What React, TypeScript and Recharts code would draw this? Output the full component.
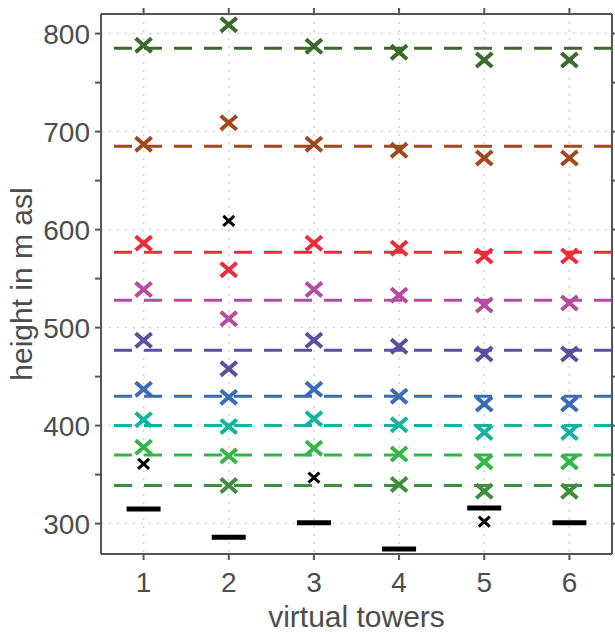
import { ScatterChart, Scatter, XAxis, YAxis, CartesianGrid, ReferenceLine, Label } from 'recharts'

const towers = [1, 2, 3, 4, 5, 6]

// reference height of each measurement level (dashed lines)
const levelHeights = [339, 370, 400, 430, 477, 528, 577, 685, 785]
const levelColors = [
  '#3f8e3f', // 339
  '#35b64a', // 370
  '#14b3a1', // 400
  '#3a6cb6', // 430
  '#5a4fa1', // 477
  '#b64b9f', // 528
  '#ee2b3c', // 577
  '#a1481f', // 685
  '#3c6a2e', // 785
]

// level heights at the virtual towers (null = no point)
const level339 = [null, 339, null, 340, 333, 333]
const level370 = [378, 369, 377, 371, 363, 363]
const level400 = [406, 399, 407, 401, 393, 393]
const level430 = [437, 429, 437, 430, 422, 422]
const level477 = [487, 458, 487, 481, 473, 473]
const level528 = [539, 509, 539, 533, 523, 525]
const level577 = [586, 559, 586, 581, 573, 573]
const level685 = [687, 709, 687, 681, 673, 673]
const level785 = [788, 809, 787, 781, 773, 773]
const levelValues = [level339, level370, level400, level430, level477, level528, level577, level685, level785]

const blackPoints = [361, 609, 347, null, 302, null]
const groundLevel = [315, 286, 301, 274, 316, 301]

const majorTicks = [300, 400, 500, 600, 700, 800]
const allYTicks = [300, 350, 400, 450, 500, 550, 600, 650, 700, 750, 800]

const TEXT = '#4d4d4d'
const AXIS = '#555555'
const FONT = '"Liberation Sans", Arial, sans-serif'

const toPoints = (vals: (number | null)[]) =>
  towers
    .map((t, i) => ({ tower: t, height: vals[i] }))
    .filter((d) => d.height != null)

const cross = (dx: number, dy: number, width: number, color: string) => (props: any) => {
  const { cx, cy } = props
  if (cx == null || cy == null) return <g />
  return (
    <g stroke={color} strokeWidth={width}>
      <line x1={cx - dx} y1={cy - dy} x2={cx + dx} y2={cy + dy} />
      <line x1={cx - dx} y1={cy + dy} x2={cx + dx} y2={cy - dy} />
    </g>
  )
}

const groundBar = (props: any) => {
  const { cx, cy } = props
  if (cx == null || cy == null) return <g />
  return <line x1={cx - 17} y1={cy} x2={cx + 17} y2={cy} stroke="#000" strokeWidth={5} />
}

const XTick = ({ x, y, payload }: any) => (
  <text x={x} y={y + 32} textAnchor="middle" fill={TEXT} fontSize={28} fontFamily={FONT}>
    {payload.value}
  </text>
)

const YTick = ({ x, y, payload }: any) =>
  majorTicks.includes(payload.value) ? (
    <text x={x} y={y + 10} textAnchor="end" fill={TEXT} fontSize={28} fontFamily={FONT}>
      {payload.value}
    </text>
  ) : (
    <g />
  )

const NoTick = () => <g />

const YTitle = ({ viewBox }: any) => {
  const cx = 32
  const cy = viewBox.y + viewBox.height / 2
  return (
    <text x={cx} y={cy} transform={`rotate(-90, ${cx}, ${cy})`} textAnchor="middle" fill={TEXT} fontSize={30} fontFamily={FONT}>
      height in m asl
    </text>
  )
}

const XTitle = ({ viewBox }: any) => (
  <text x={viewBox.x + viewBox.width / 2} y={627} textAnchor="middle" fill={TEXT} fontSize={30} fontFamily={FONT}>
    virtual towers
  </text>
)

export default function App() {
  const axisLine = { stroke: AXIS, strokeWidth: 2 }
  const tickLine = { stroke: AXIS, strokeWidth: 2 }
  return (
    <div style={{ position: 'absolute', left: 0, top: 0, background: '#fff' }}>
      <ScatterChart width={615} height={634} margin={{ top: 13, right: 2, bottom: 0, left: 0 }}>
        <CartesianGrid
          stroke="#d6d6d6"
          strokeWidth={1.5}
          strokeDasharray="2 6"
          horizontalValues={majorTicks}
          verticalValues={towers}
        />
        <XAxis
          dataKey="tower"
          type="number"
          domain={[0.5, 6.5]}
          ticks={towers}
          allowDataOverflow
          height={80}
          tickSize={6}
          tickMargin={0}
          axisLine={axisLine}
          tickLine={tickLine}
          tick={<XTick />}
        >
          <Label content={<XTitle />} />
        </XAxis>
        <XAxis
          xAxisId="top"
          dataKey="tower"
          orientation="top"
          type="number"
          domain={[0.5, 6.5]}
          ticks={towers}
          allowDataOverflow
          height={1}
          tickSize={6}
          axisLine={axisLine}
          tickLine={tickLine}
          tick={<NoTick />}
        />
        <YAxis
          dataKey="height"
          type="number"
          domain={[269, 820]}
          ticks={allYTicks}
          allowDataOverflow
          width={101}
          tickSize={6}
          tickMargin={5}
          axisLine={axisLine}
          tickLine={tickLine}
          tick={<YTick />}
        >
          <Label content={<YTitle />} />
        </YAxis>
        <YAxis
          yAxisId="right"
          dataKey="height"
          orientation="right"
          type="number"
          domain={[269, 820]}
          ticks={allYTicks}
          allowDataOverflow
          width={1}
          tickSize={6}
          axisLine={axisLine}
          tickLine={tickLine}
          tick={<NoTick />}
        />
        {levelHeights.map((h, i) => (
          <ReferenceLine
            key={`ref-${h}`}
            xAxisId="top"
            yAxisId="right"
            y={h}
            stroke={levelColors[i]}
            strokeWidth={3}
            strokeDasharray="18 12"
          />
        ))}
        {levelValues.map((vals, i) => (
          <Scatter
            key={`level-${levelHeights[i]}`}
            data={toPoints(vals)}
            shape={cross(8, 7, 4, levelColors[i])}
            isAnimationActive={false}
          />
        ))}
        <Scatter data={toPoints(blackPoints)} shape={cross(5.5, 5, 3, '#000')} isAnimationActive={false} />
        <Scatter
          xAxisId="top"
          yAxisId="right"
          data={toPoints(groundLevel)}
          shape={groundBar}
          isAnimationActive={false}
        />
      </ScatterChart>
    </div>
  )
}
